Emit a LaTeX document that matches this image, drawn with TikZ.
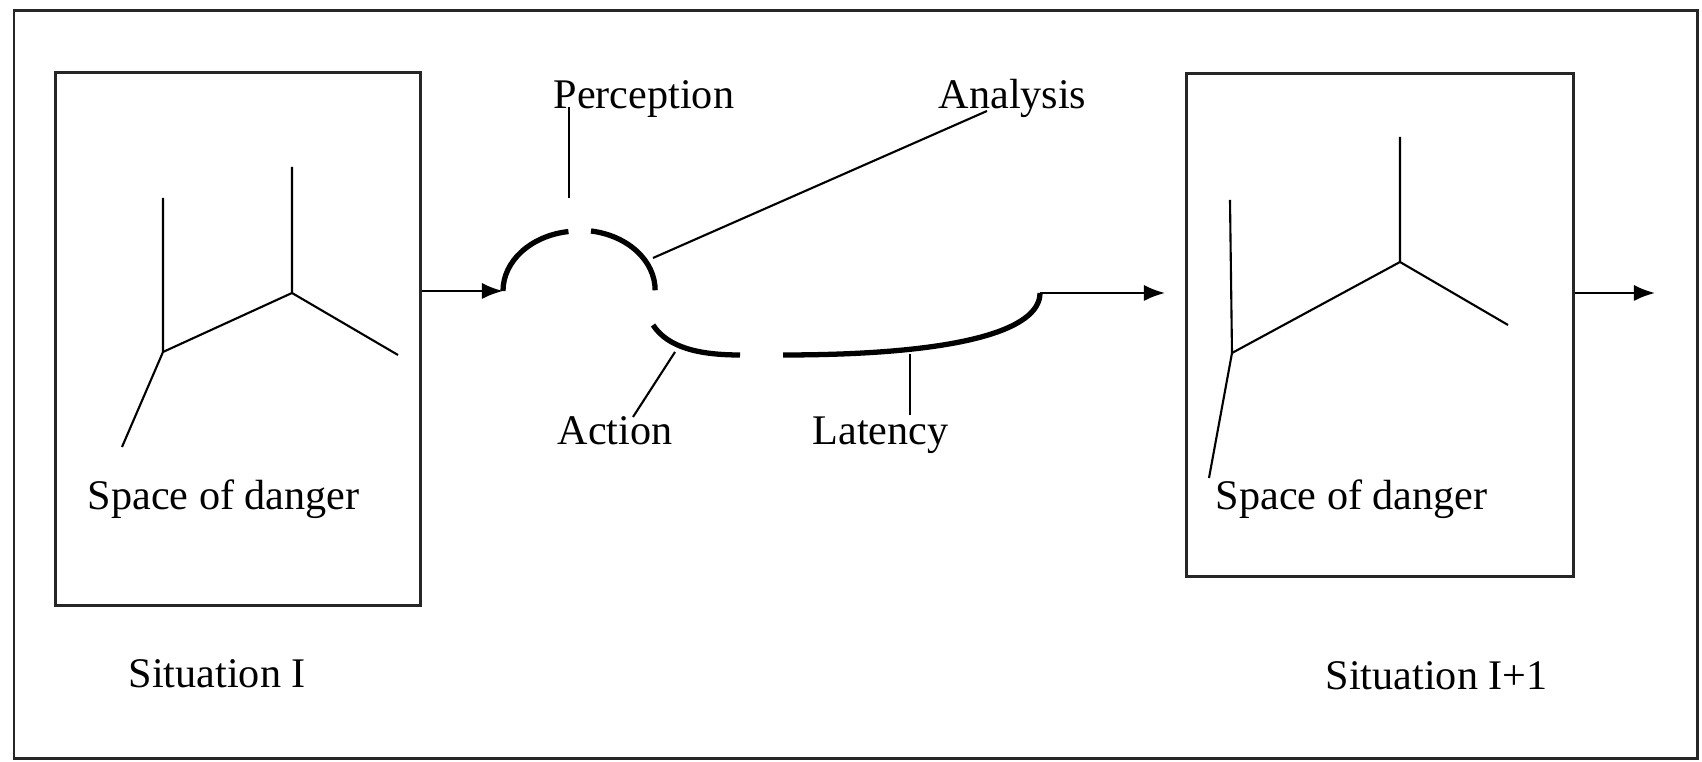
\documentclass[tikz,border=0pt]{standalone}
\usepackage{fontspec}
\setmainfont{Liberation Serif}
\usetikzlibrary{arrows.meta}
\tikzset{>={Latex[length=6pt, width=4.6pt]}}

\begin{document}
\begin{tikzpicture}[x=0.01cm, y=-0.01cm,
  frame/.style={draw=black!85, line width=0.85pt},
  sitbox/.style={draw=black!85, line width=0.85pt, inner sep=0pt},
  lbl/.style={anchor=base west, inner sep=0pt, font=\fontsize{12}{14}\selectfont},
  wire/.style={line width=0.6pt},
  phase/.style={line width=1.5pt}]

\useasboundingbox (0, 0) rectangle (1702, 762);
\draw[frame] (14, 11) rectangle (1697, 759);

% the two situations
\node[sitbox, minimum width = 3.64cm, minimum height = 5.32cm] (sitA) at (238, 339) {};
\node[sitbox, minimum width = 3.86cm, minimum height = 5.02cm] (sitB) at (1380, 325) {};

\draw[wire] (163, 198) -- (163, 352) -- (122, 447);
\draw[wire] (163, 352) -- (292, 293) -- (292, 167);
\draw[wire] (292, 293) -- (398, 355);

\draw[wire] (1230, 200) -- (1232, 353) -- (1209, 478);
\draw[wire] (1232, 353) -- (1400, 262) -- (1400, 137);
\draw[wire] (1400, 262) -- (1508, 325);

\node[lbl] (dangerA) at (87, 510) {Space of danger};
\node[lbl] (dangerB) at (1215, 510) {Space of danger};
\node[lbl] (sitAname) at (128, 688) {Situation I};
\node[lbl] (sitBname) at (1325, 690) {Situation I+1};

% the cycle between them
\coordinate (percIn) at (503, 291);
\coordinate (percGap) at (591, 231);
\coordinate (actIn) at (653, 325);
\coordinate (actOut) at (740, 355);
\coordinate (latIn) at (783, 355);
\coordinate (latOut) at (1040, 293);
\coordinate (sitBin) at (1165, 293);
\coordinate (nextIn) at (1655, 293);

\draw[phase] (percIn) arc[start angle = 180, end angle = 98, x radius = 0.76cm, y radius = 0.6cm];
\draw[phase] (percGap) arc[start angle = 81, end angle = 0, x radius = 0.76cm, y radius = 0.6cm];
\draw[phase] (actIn) .. controls (668, 348) and (700, 355) .. (actOut);
\draw[phase] (latIn) .. controls (960, 355) and (1040, 330) .. (latOut);

\draw[wire, ->] (sitA.east |- percIn) -- (percIn);
\draw[wire, ->] (latOut) -- (sitBin);
\draw[wire, ->] (sitB.east |- nextIn) -- (nextIn);

\node[lbl] (perc) at (553, 109) {Perception};
\node[lbl] (anal) at (938, 109) {Analysis};
\node[lbl] (act) at (557, 445) {Action};
\node[lbl] (lat) at (812, 445) {Latency};

\coordinate (percTop) at (569, 107);
\coordinate (percBot) at (569, 198);
\coordinate (analTop) at (987, 111);
\coordinate (analBot) at (653, 258);
\coordinate (actTop) at (675, 352);
\coordinate (actBot) at (633, 417);
\coordinate (latTop) at (910, 354);
\coordinate (latBot) at (910, 415);

\foreach \a/\b in {percTop/percBot, analTop/analBot, actTop/actBot, latTop/latBot}{\draw[wire] (\a) -- (\b);}

\end{tikzpicture}
\end{document}
